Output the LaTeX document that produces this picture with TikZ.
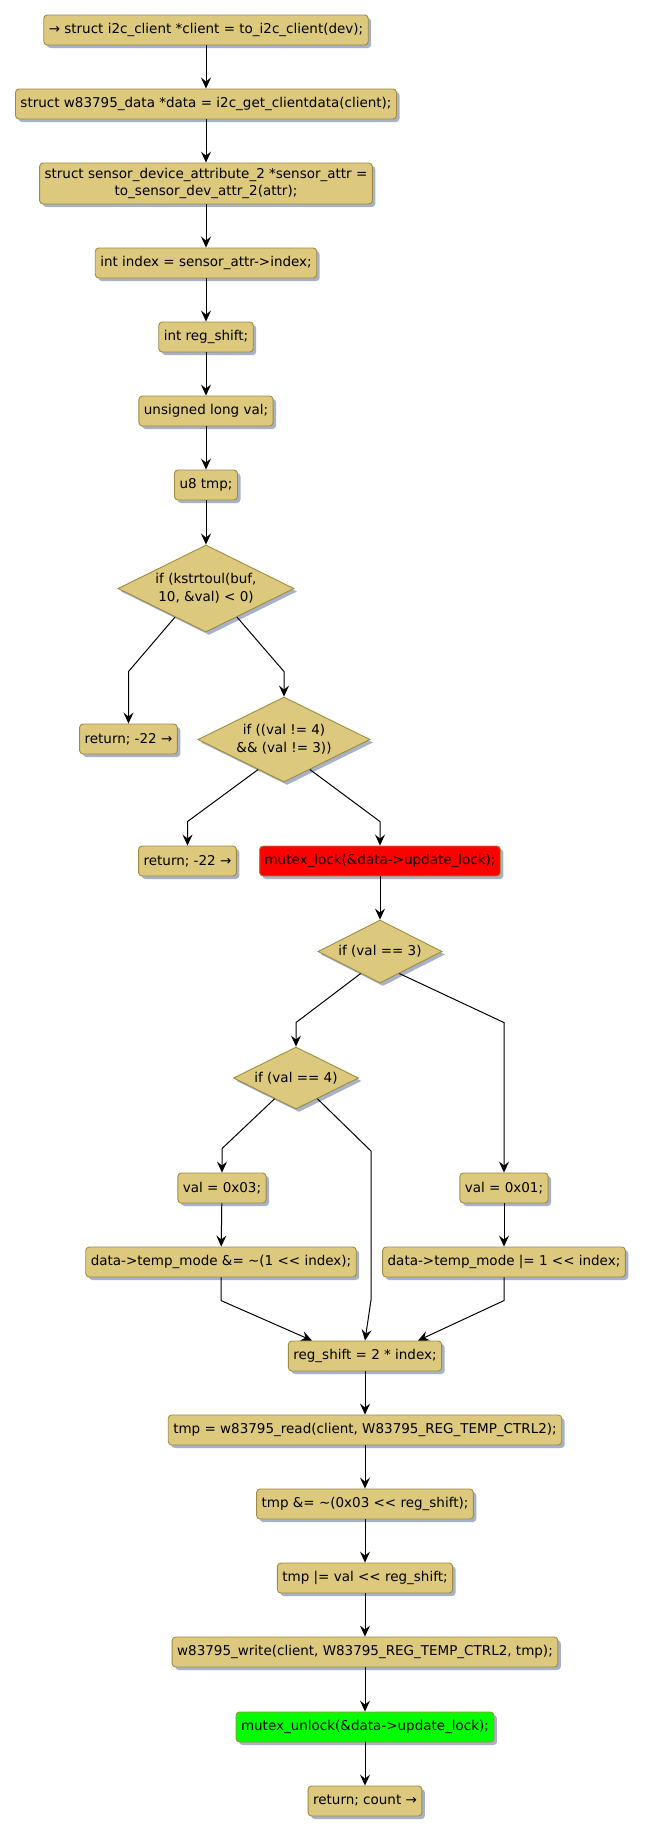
\documentclass[tikz,border=0pt]{standalone}
\usepackage{fontspec}
\setmainfont{DejaVu Sans}
\usetikzlibrary{shapes.geometric,shadows,arrows.meta,calc}
\definecolor{actfill}{HTML}{DCC97D}
\definecolor{actline}{HTML}{A08B3E}
\definecolor{actshadow}{HTML}{A6B2CA}
\begin{document}
\begin{tikzpicture}[x=1pt,y=-1pt]
		\tikzstyle{every node}=[font=\fontsize{13.5}{17.5}\selectfont]
		\tikzstyle{act}=[draw=actline,fill=actfill,line width=0.9pt,rounded corners=3.5pt,inner xsep=5pt,inner ysep=5pt,minimum height=30pt,align=center,drop shadow={shadow xshift=3pt,shadow yshift=-3pt,fill=actshadow,opacity=1}]
		\tikzstyle{cond}=[act,diamond,rounded corners=0pt,aspect=2,inner sep=0pt]
		\tikzstyle{flow}=[line width=1pt,-{Stealth[length=11pt,width=10pt,inset=4pt]}]
		\useasboundingbox (0,0) rectangle (646,1834);
		\node[act] (b1) at (206,30) {→ struct i2c\_client *client = to\_i2c\_client(dev);};
		\node[act] (b2) at (206,104) {struct w83795\_data *data = i2c\_get\_clientdata(client);};
		\node[act] (b3) at (206,183.5) {struct sensor\_device\_attribute\_2 *sensor\_attr =\\to\_sensor\_dev\_attr\_2(attr);};
		\node[act] (b4) at (206,263) {int index = sensor\_attr->index;};
		\node[act] (b5) at (206,337) {int reg\_shift;};
		\node[act] (b6) at (206,411) {unsigned long val;};
		\node[act] (b7) at (206,485) {u8 tmp;};
		\node[cond,minimum width=176pt,minimum height=87pt] (d1) at (206,588.5) {if (kstrtoul(buf,\\10, \&val) < 0)};
		\node[act] (ret1) at (128.5,739) {return; -22 →};
		\node[cond,minimum width=172pt,minimum height=85pt] (d2) at (284,739.5) {if ((val != 4)\\\&\& (val != 3))};
		\node[act] (ret2) at (187.5,861) {return; -22 →};
		\node[act,fill=red] (lock) at (380,861) {mutex\_lock(\&data->update\_lock);};
		\node[cond,minimum width=124pt,minimum height=63pt] (d3) at (380,951.5) {if (val == 3)};
		\node[cond,minimum width=125pt,minimum height=62pt] (d4) at (296,1078) {if (val == 4)};
		\node[act] (v3) at (222,1188) {val = 0x03;};
		\node[act] (v1) at (504,1188) {val = 0x01;};
		\node[act] (tm3) at (221,1262) {data->temp\_mode \&= \textasciitilde(1 <{}< index);};
		\node[act] (tm1) at (504,1262) {data->temp\_mode |= 1 <{}< index;};
		\node[act] (rs) at (365,1356) {reg\_shift = 2 * index;};
		\node[act] (rd) at (365,1430) {tmp = w83795\_read(client, W83795\_REG\_TEMP\_CTRL2);};
		\node[act] (clr) at (365,1504) {tmp \&= \textasciitilde(0x03 <{}< reg\_shift);};
		\node[act] (set) at (365,1578) {tmp |= val <{}< reg\_shift;};
		\node[act] (wr) at (365,1652) {w83795\_write(client, W83795\_REG\_TEMP\_CTRL2, tmp);};
		\node[act,fill=green] (unlock) at (365,1727) {mutex\_unlock(\&data->update\_lock);};
		\node[act] (ret3) at (365,1801) {return; count →};
		% straight runs
		\foreach \a/\b in {b1/b2,b2/b3,b3/b4,b4/b5,b5/b6,b6/b7,b7/d1,lock/d3,v3/tm3,v1/tm1,rs/rd,rd/clr,clr/set,set/wr,wr/unlock,unlock/ret3}
			\draw[flow] (\a) -- (\b);
		% branches
		\coordinate (k1) at ($(d2.north)+(0,-25)$);
		\coordinate (k2) at ($(ret2.north)+(0,-24)$);
		\coordinate (k3) at ($(d4.north)+(0,-24)$);
		\coordinate (k4) at ($(v3.north)+(0,-24)$);
		\coordinate (k5) at (371,1151);
		\coordinate (k6) at (371,1300);
		\coordinate (k7) at ($(rs.north)+(0,-40)$);
		\draw[flow] ($(d1.south)!.35!(d1.west)$) -- (ret1.north |- k1) -- (ret1.north);
		\draw[flow] ($(d1.south)!.35!(d1.east)$) -- (k1) -- (d2.north);
		\draw[flow] ($(d2.south)!.3!(d2.west)$) -- (k2) -- (ret2.north);
		\draw[flow] ($(d2.south)!.3!(d2.east)$) -- (lock.north |- k2) -- (lock.north);
		\draw[flow] ($(d3.south)!.31!(d3.west)$) -- (k3) -- (d4.north);
		\draw[flow] ($(d3.south)!.31!(d3.east)$) -- (v1.north |- k3) -- (v1.north);
		\draw[flow] ($(d4.south)!.34!(d4.west)$) -- (k4) -- (v3.north);
		\draw[flow] ($(d4.south)!.34!(d4.east)$) -- (k5) -- (k6) -- (rs.north);
		\draw[flow] (tm3.south) -- (tm3.south |- k7) -- ([xshift=-53pt]rs.north);
		\draw[flow] (tm1.south) -- (tm1.south |- k7) -- ([xshift=53pt]rs.north);
\end{tikzpicture}
\end{document}
